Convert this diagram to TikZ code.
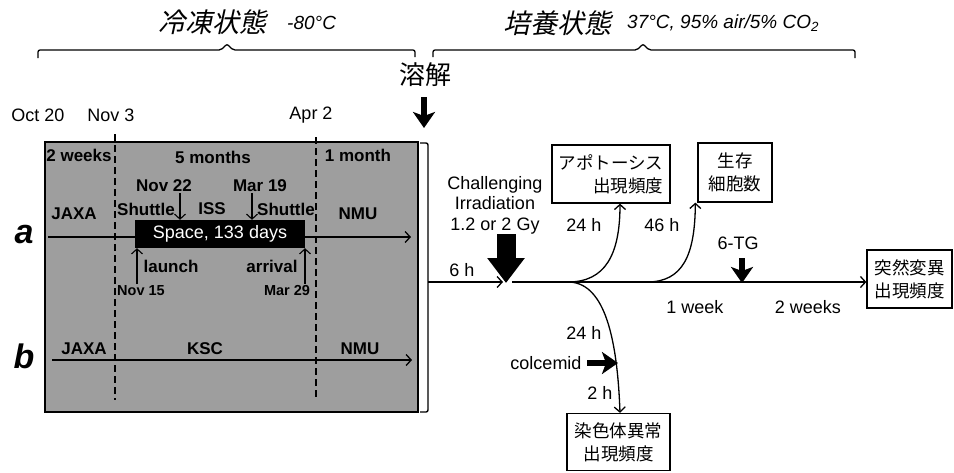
\documentclass[tikz,border=0pt]{standalone}
\usepackage{fontspec}
\setmainfont{Liberation Sans}
\newfontfamily\cjk{Noto Sans CJK JP}
\newfontfamily\cjkit[FakeSlant=0.22]{Noto Sans CJK JP}
\usetikzlibrary{arrows.meta}
\tikzset{
 lbl/.style={inner sep=0pt, font=\fontsize{18}{20.5}\selectfont},
 blbl/.style={inner sep=0pt, font=\fontsize{17}{19}\selectfont\bfseries},
 slbl/.style={inner sep=0pt, font=\fontsize{14.5}{16}\selectfont\bfseries},
 cjkbox/.style={draw, line width=1.3pt, inner sep=0pt, align=center, font=\cjk\fontsize{17.5}{23}\selectfont},
 thinarr/.style={line width=1.3pt, -{Straight Barb[length=5pt,width=11pt]}},
 fatarr/.style={line width=6.5pt, -{Stealth[length=16pt,width=22pt,inset=4pt]}},
 topbrace/.style={line width=1.3pt, rounded corners=2pt},
 dashv/.style={line width=1.8pt, dash pattern=on 7pt off 4pt},
 rowletter/.style={inner sep=0pt, font=\fontsize{34}{36}\selectfont\bfseries\itshape},
 cjktop/.style={inner sep=0pt, font=\cjkit\fontsize{27}{30}\selectfont},
 toptemp/.style={inner sep=0pt, font=\fontsize{19}{22}\selectfont\itshape},
}
\begin{document}
\begin{tikzpicture}[x=1pt,y=-1pt]
\useasboundingbox (0,0) rectangle (954,472);
% ---- top states
\node[cjktop, anchor=east] (frz) at (267,22) {冷凍状態};
\node[toptemp, anchor=west] (frzT) at (287,23) {-80°C};
\node[cjktop, anchor=east] (cul) at (612,23) {培養状態};
\node[toptemp, anchor=west] (culT) at (627,23) {37°C, 95\% air/5\% CO\textsubscript{2}};
\draw[topbrace] (38,58) -- (38,50) -- (221,50) -- (227,44) -- (233,50) -- (415,50) -- (415,57);
\draw[topbrace] (433,57) -- (433,50) -- (637,50) -- (643,44) -- (649,50) -- (855,50) -- (855,58);
\node[inner sep=0pt, font=\cjk\fontsize{26}{28}\selectfont] (melt) at (425,75) {溶解};
\coordinate (meltA) at (424,97);
\coordinate (meltB) at (424,128);
\draw[fatarr] (meltA) -- (meltB);
% ---- dates
\node[lbl] (d1) at (38,115) {Oct 20};
\node[lbl] (d2) at (111,115) {Nov 3};
\node[lbl] (d3) at (311,115) {Apr 2};
% ---- grey box
\draw[line width=1.2pt, fill=black!38] (45,142) rectangle (418,412);
\draw[dashv] (115,134) -- (115,400);
\draw[dashv] (316,137) -- (316,400);
\node[blbl] (w2) at (79,155) {2 weeks};
\node[blbl] (m5) at (213,157) {5 months};
\node[blbl] (m1) at (358,155) {1 month};
\node[blbl] (n22) at (164,186) {Nov 22};
\node[blbl] (m19) at (260,186) {Mar 19};
\node[blbl] (sh1) at (146,209) {Shuttle};
\node[blbl] (iss) at (212,209) {ISS};
\node[blbl] (sh2) at (286,209) {Shuttle};
\node[blbl] (jx1) at (74,214) {JAXA};
\node[blbl] (nm1) at (358,214) {NMU};
\coordinate (a0) at (48,237);
\coordinate (a1) at (411,237);
\draw[thinarr] (a0) -- (a1);
\node[fill=black, text=white, minimum width=170pt, minimum height=28pt, inner sep=0pt, font=\fontsize{18}{20}\selectfont] (space) at (220,234) {Space, 133 days};
\coordinate (n22a) at (180,193);
\coordinate (m19a) at (252,193);
\draw[thinarr, line width=1.1pt] (n22a) -- (n22a |- space.north);
\draw[thinarr, line width=1.1pt] (m19a) -- (m19a |- space.north);
\coordinate (laa) at (137,284);
\coordinate (ara) at (305,284);
\draw[thinarr, line width=1.1pt] (laa) -- (laa |- space.south);
\draw[thinarr, line width=1.1pt] (ara) -- (ara |- space.south);
\node[blbl] (lau) at (171,266) {launch};
\node[blbl] (arv) at (272,266) {arrival};
\node[slbl] (n15) at (141,291) {Nov 15};
\node[slbl] (m29) at (287,291) {Mar 29};
\node[rowletter] (la) at (24,235) {a};
\node[rowletter] (lb) at (24,356) {b};
\coordinate (b0) at (52,360);
\coordinate (b1) at (412,360);
\draw[thinarr] (b0) -- (b1);
\node[blbl] (jx2) at (84,349) {JAXA};
\node[blbl] (ksc) at (205,349) {KSC};
\node[blbl] (nm2) at (360,349) {NMU};
% ---- bracket
\draw[line width=1.4pt, rounded corners=2pt] (420,143) -- (428,143) -- (428,412) -- (420,412);
\coordinate (brk) at (428,282);
\coordinate (irr) at (503,282);
\draw[thinarr] (brk) -- (irr);
% ---- right side
\node[lbl, align=center] (chal) at (495,205) {Challenging\\Irradiation\\1.2 or 2 Gy};
\node[lbl] (h6) at (462,270) {6 h};
\coordinate (irrT) at (506,234);
\coordinate (irrB) at (506,283);
\draw[line width=19pt, -{Triangle[length=25pt,width=36pt]}] (irrT) -- (irrB);
\node[cjkbox, minimum width=118pt, minimum height=58pt, align=right] (apo) at (611,174) {アポトーシス\\出現頻度};
\node[cjkbox, minimum width=74pt, minimum height=59pt] (surv) at (735,172.5) {生存\\細胞数};
\node[cjkbox, minimum width=85pt, minimum height=58pt] (mut) at (909.5,279) {突然変異\\出現頻度};
\node[cjkbox, minimum width=103pt, minimum height=57pt] (chr) at (618.5,442) {染色体異常\\出現頻度};
\coordinate (ms) at (512,282);
\draw[thinarr] (ms) -- (ms -| mut.west);
\coordinate (br1) at (568,282);
\coordinate (br2) at (647,282);
\draw[thinarr] (br1) .. controls (605,282) and (620,255) .. ([xshift=9pt]apo.south);
\draw[thinarr] (br2) .. controls (683,282) and (695,255) .. ([xshift=-2pt]surv.south west);
\draw[thinarr] (br1) .. controls (602,282) and (617,330) .. ([xshift=1.5pt]chr.north);
\node[lbl] (h24a) at (584,225) {24 h};
\node[lbl] (h46) at (662,225) {46 h};
\node[lbl] (tg) at (738,243) {6-TG};
\coordinate (tgA) at (742,258);
\coordinate (tgB) at (742,283);
\draw[fatarr] (tgA) -- (tgB);
\node[lbl] (wk1) at (695,307) {1 week};
\node[lbl] (wk2) at (808,307) {2 weeks};
\node[lbl] (h24b) at (584,333) {24 h};
\node[lbl] (colc) at (546,363) {colcemid};
\node[lbl] (h2) at (600,393) {2 h};
\coordinate (colA) at (587,363);
\coordinate (colB) at (618,363);
\draw[fatarr] (colA) -- (colB);
\end{tikzpicture}
\end{document}
